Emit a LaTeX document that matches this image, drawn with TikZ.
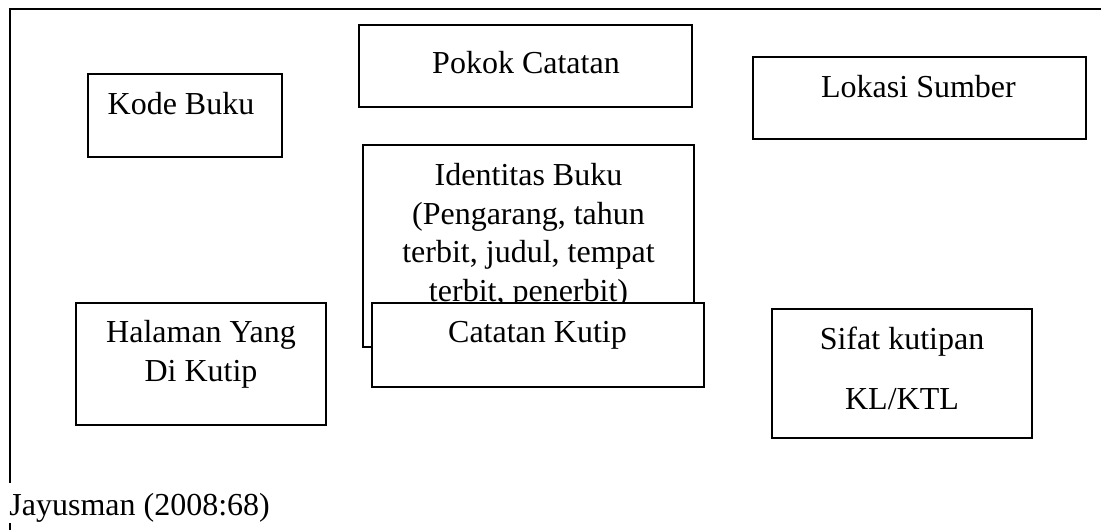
\documentclass[tikz,border=0pt]{standalone}
\usepackage{fontspec}
\setmainfont{Liberation Serif}
\usepackage{tikz}

\begin{document}
\begin{tikzpicture}[x=0.5pt, y=-0.5pt,
    box/.style={draw, fill=white, line width=0.75pt, inner sep=0pt},
    txt/.style={anchor=north, inner sep=0pt, align=center, font=\fontsize{16}{19.3}\selectfont}]
    \useasboundingbox (0,0) rectangle (1101,530);
    \coordinate (tr) at (1101, 9);
    \coordinate (tl) at (10, 9);
    \coordinate (lb) at (10, 483);
    \coordinate (lc) at (10, 523);
    \coordinate (ld) at (10, 530);
    \draw [line width=1.15pt] (tr) -- (tl) -- (lb);
    \draw [line width=1.15pt] (lc) -- (ld);
    \node[box, minimum width=97pt, minimum height=41.5pt] (k) at (185, 115.5) {};
    \node[box, minimum width=166.5pt, minimum height=41pt] (p) at (525.5, 66) {};
    \node[box, minimum width=166.5pt, minimum height=41pt] (l) at (919.5, 98) {};
    \node[box, minimum width=165.5pt, minimum height=101pt] (i) at (528.5, 246) {};
    \node[box, minimum width=125pt, minimum height=61pt] (h) at (201, 364) {};
    \node[box, minimum width=130pt, minimum height=64.5pt] (s) at (902, 373.5) {};
    \node[txt] (kt) at (181, 92) {Kode Buku};
    \node[txt] (pt) at (526, 51) {Pokok Catatan};
    \node[txt] (lt) at (918.5, 75) {Lokasi Sumber};
    \node[txt] (it) at (528.5, 163) {Identitas Buku\\(Pengarang, tahun\\terbit, judul, tempat\\terbit, penerbit)};
    \node[txt] (ht) at (201, 320) {Halaman Yang\\Di Kutip};
    \node[txt] (st) at (902, 327) {Sifat kutipan\\[10.7pt]KL/KTL};
    % Catatan Kutip lies over the lower edge of Identitas Buku
    \node[box, minimum width=166pt, minimum height=42pt] (c) at (538, 345) {};
    \node[txt] (ct) at (537.5, 321) {Catatan Kutip};
    \node[txt, anchor=north west] (j) at (9, 493) {Jayusman (2008:68)};
  \end{tikzpicture}
\end{document}
